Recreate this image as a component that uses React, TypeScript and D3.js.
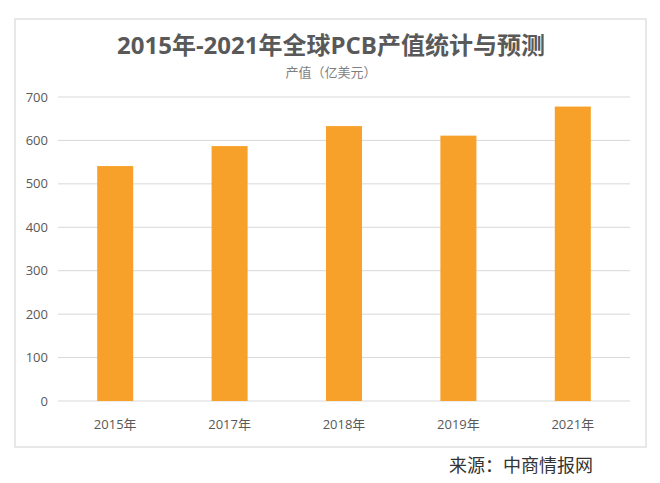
import React from 'react';
import * as d3 from 'd3';

const years = ['2015年', '2017年', '2018年', '2019年', '2021年'];
const values = [541, 587, 633, 611, 678];
const yTicks = [0, 100, 200, 300, 400, 500, 600, 700];

const W = 660;
const H = 483;
const CJK = '"Open Sans", "Noto Sans CJK SC", sans-serif';

const App: React.FC = () => {
  const x = d3.scaleBand<string>()
    .domain(years)
    .range([58, 630])
    .paddingInner(0.685)
    .paddingOuter(0.3425);

  const y = d3.scaleLinear()
    .domain([0, 700])
    .range([401, 97]);

  return (
    <svg
      width={W}
      height={H}
      style={{ position: 'absolute', left: 0, top: 0, background: '#fff' }}
    >
      {/* chart frame */}
      <rect x={15} y={19} width={631} height={428} fill="#fff" stroke="#d9d9d9" strokeWidth={1.2} />

      <text x={331} y={54} textAnchor="middle" fontFamily={CJK} fontSize={24} fontWeight="bold" fill="#595959">
        2015年-2021年全球PCB产值统计与预测
      </text>
      <text x={331} y={77} textAnchor="middle" fontFamily={CJK} fontSize={13} fill="#7f7f7f">
        产值（亿美元）
      </text>

      {/* grid + y labels */}
      {yTicks.map(t => (
        <g key={t}>
          <line x1={58} x2={630} y1={y(t)} y2={y(t)} stroke="#d9d9d9" strokeWidth={1} />
          <text x={48} y={y(t)} dy="0.35em" textAnchor="end" fontFamily={CJK} fontSize={13} fill="#595959">
            {t}
          </text>
        </g>
      ))}

      {/* bars */}
      {years.map((yr, i) => (
        <rect
          key={yr}
          x={x(yr)}
          y={y(values[i])}
          width={x.bandwidth()}
          height={y(0) - y(values[i])}
          fill="#f8a12a"
        />
      ))}

      {/* x labels */}
      {years.map(yr => (
        <text
          key={yr}
          x={(x(yr) ?? 0) + x.bandwidth() / 2}
          y={424}
          dy="0.35em"
          textAnchor="middle"
          fontFamily={CJK}
          fontSize={13}
          fill="#595959"
        >
          {yr}
        </text>
      ))}

      <text x={449} y={472} fontFamily='"Noto Sans CJK SC", sans-serif' fontSize={18} fill="#333">
        来源：中商情报网
      </text>
    </svg>
  );
};

export default App;
